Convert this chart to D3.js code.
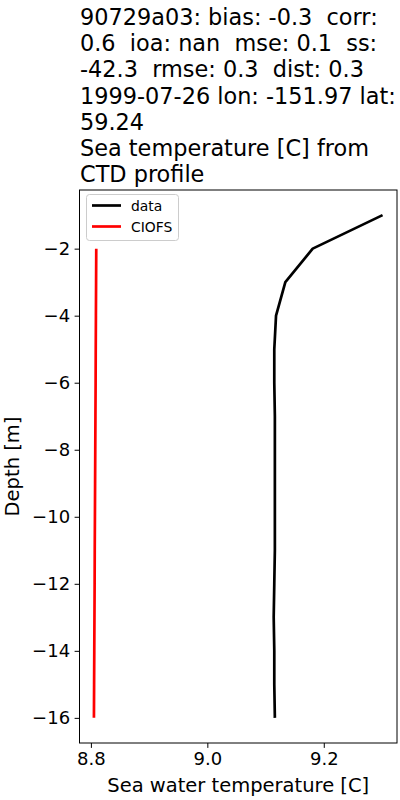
<!DOCTYPE html>
<html>
<head>
<meta charset="utf-8">
<script src="https://cdn.jsdelivr.net/npm/d3@7"></script>
<style>
  body { margin: 0; background: #fff; }
  svg { font-family: "DejaVu Sans", sans-serif; }
</style>
</head>
<body>
<div id="chart"></div>
<script>
// depth levels (m) and temperatures
var dataDepth = [-1, -2, -3, -4, -5, -6, -7, -8, -9, -10, -11, -12, -13, -14, -15, -16];
var dataTemp = [9.301, 9.181, 9.134, 9.118, 9.115, 9.115, 9.116, 9.116, 9.116, 9.116, 9.116, 9.115, 9.114, 9.115, 9.115, 9.116];

var modelDepth = [-2, -3, -4, -5, -6, -7, -8, -9, -10, -11, -12, -13, -14, -15, -16];
var modelTemp = [8.8092, 8.8089, 8.8086, 8.8083, 8.8081, 8.8078, 8.8075, 8.8072, 8.8069, 8.8066, 8.8064, 8.8061, 8.8058, 8.8055, 8.8052];

var xTicks = [8.8, 9.0, 9.2];
var yTicks = [-2, -4, -6, -8, -10, -12, -14, -16];

var titleLines = [
  "90729a03: bias: -0.3  corr:",
  "0.6  ioa: nan  mse: 0.1  ss:",
  "-42.3  rmse: 0.3  dist: 0.3",
  "1999-07-26 lon: -151.97 lat:",
  "59.24",
  "Sea temperature [C] from",
  "CTD profile"
];

var W = 400, H = 800;
var pLeft = 79.5, pRight = 397, pTop = 190, pBottom = 743;

var svg = d3.select("#chart")
  .append("svg")
    .attr("width", W)
    .attr("height", H);

// matplotlib style 5% margins
function padded(vals) {
  var e = d3.extent(vals);
  var m = (e[1] - e[0]) * 0.05;
  return [e[0] - m, e[1] + m];
}

var x = d3.scaleLinear()
  .domain(padded(dataTemp.concat(modelTemp)))
  .range([pLeft, pRight]);

var y = d3.scaleLinear()
  .domain(padded(dataDepth.concat(modelDepth)))
  .range([pBottom, pTop]);

var fmtMinus = function(d) { return String(d).replace("-", "\u2212"); };

var xAxis = svg.append("g")
  .attr("transform", "translate(0," + pBottom + ")")
  .call(d3.axisBottom(x).tickValues(xTicks).tickFormat(d3.format(".1f")).tickSize(4.9).tickPadding(4));

var yAxis = svg.append("g")
  .attr("transform", "translate(" + pLeft + ",0)")
  .call(d3.axisLeft(y).tickValues(yTicks).tickFormat(fmtMinus).tickSize(4.9).tickPadding(4.5));

[xAxis, yAxis].forEach(function(g) {
  g.select(".domain").remove();
  g.selectAll("text").attr("font-size", 18).attr("fill", "#000").attr("font-family", "DejaVu Sans");
  g.selectAll("line").attr("stroke", "#000").attr("stroke-width", 1);
});

var line = d3.line()
  .x(function(d) { return x(d[0]); })
  .y(function(d) { return y(d[1]); });

svg.append("path")
  .datum(d3.zip(dataTemp, dataDepth))
  .attr("d", line)
  .attr("fill", "none")
  .attr("stroke", "#000")
  .attr("stroke-width", 2.7)
  .attr("stroke-linejoin", "round");

svg.append("path")
  .datum(d3.zip(modelTemp, modelDepth))
  .attr("d", line)
  .attr("fill", "none")
  .attr("stroke", "#ff0000")
  .attr("stroke-width", 2.7);

// frame
svg.append("rect")
  .attr("x", pLeft)
  .attr("y", pTop)
  .attr("width", pRight - pLeft)
  .attr("height", pBottom - pTop)
  .attr("fill", "none")
  .attr("stroke", "#000")
  .attr("stroke-width", 1);

// legend
var leg = svg.append("g");
leg.append("rect")
  .attr("x", 86.5)
  .attr("y", 194.5)
  .attr("width", 92)
  .attr("height", 46)
  .attr("rx", 3)
  .attr("fill", "#fff")
  .attr("fill-opacity", 0.8)
  .attr("stroke", "#cccccc");

var legItems = [["data", "#000"], ["CIOFS", "#ff0000"]];
legItems.forEach(function(it, i) {
  var ly = 205.5 + i * 21;
  leg.append("line")
    .attr("x1", 92)
    .attr("x2", 121)
    .attr("y1", ly)
    .attr("y2", ly)
    .attr("stroke", it[1])
    .attr("stroke-width", 2.7);
  leg.append("text")
    .attr("x", 131)
    .attr("y", ly + 5)
    .attr("font-size", 13.9)
    .text(it[0]);
});

// axis labels
svg.append("text")
  .attr("x", (pLeft + pRight) / 2)
  .attr("y", 792)
  .attr("text-anchor", "middle")
  .attr("font-size", 19.5)
  .text("Sea water temperature [C]");

svg.append("text")
  .attr("transform", "translate(19," + ((pTop + pBottom) / 2) + ") rotate(-90)")
  .attr("text-anchor", "middle")
  .attr("font-size", 19.5)
  .text("Depth [m]");

// title
svg.append("g").selectAll("text")
  .data(titleLines)
  .join("text")
    .attr("x", 80)
    .attr("y", function(d, i) { return 25 + i * 26.2; })
    .attr("font-size", 22.4)
    .style("white-space", "pre")
    .text(function(d) { return d; });
</script>
</body>
</html>
